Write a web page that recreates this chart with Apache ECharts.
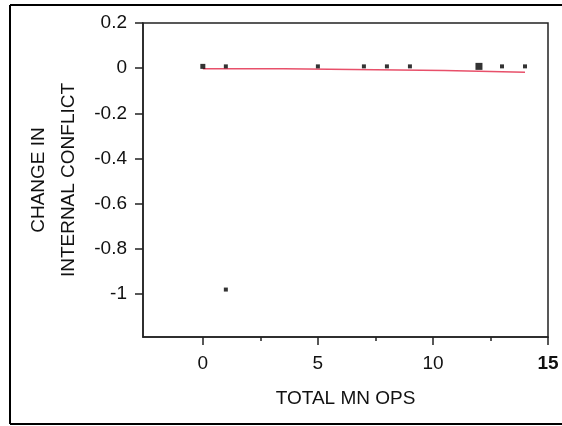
<!DOCTYPE html>
<html>
<head>
<meta charset="utf-8">
<script src="https://cdn.jsdelivr.net/npm/echarts@6/dist/echarts.min.js"></script>
<style>
html,body{margin:0;padding:0;background:#fff;}
#chart{width:562px;height:426px;}
</style>
</head>
<body>
<div id="chart"></div>
<script>
// Data
const pointX = [0, 1, 5, 7, 8, 9, 12, 13, 14, 1];
const pointY = [0.008, 0.008, 0.008, 0.008, 0.008, 0.008, 0.008, 0.008, 0.008, -0.98];
const pointCount = [2, 1, 1, 1, 1, 1, 4, 1, 1, 1];
const fitX = [0, 3.5, 3.5, 10.5, 10.5, 14];
const fitY = [-0.003, -0.003, -0.01, -0.01, -0.018, -0.018];
const xMajorTicks = [0, 5, 10, 15];
const xMinorTicks = [2.5, 7.5, 12.5];
const yTicks = [0.2, 0, -0.2, -0.4, -0.6, -0.8, -1];
const xTitle = 'TOTAL MN OPS';
const yTitle = 'CHANGE IN\nINTERNAL CONFLICT';

const chart = echarts.init(document.getElementById('chart'));
const font = 'Liberation Sans, Arial, sans-serif';
const axisColor = '#222';
const fs = 19;

const scatterData = pointX.map((x, i) => [x, pointY[i], pointCount[i]]);
const fitData = fitX.map((x, i) => [x, fitY[i]]);

chart.setOption({
  animation: false,
  backgroundColor: '#fff',
  grid: {
    left: 143, right: 14, top: 23, bottom: 89,
    show: true, borderColor: axisColor, borderWidth: 1.5, backgroundColor: 'transparent'
  },
  xAxis: [{
    type: 'value', min: -2.6, max: 15,
    name: xTitle, nameLocation: 'middle', nameGap: 52,
    nameTextStyle: { fontFamily: font, fontSize: fs, color: '#111' },
    axisLine: { show: true, onZero: false, lineStyle: { color: axisColor, width: 1.5 } },
    axisTick: { show: true, customValues: xMajorTicks, length: 8, lineStyle: { color: axisColor, width: 1.5 } },
    axisLabel: {
      customValues: xMajorTicks, margin: 17, fontFamily: font, fontSize: fs, color: '#111',
      formatter: v => v === 15 ? '{b|15}' : String(v),
      rich: { b: { fontWeight: 'bold', fontFamily: font, fontSize: fs, color: '#111' } }
    },
    splitLine: { show: false }
  }, {
    type: 'value', min: -2.6, max: 15, position: 'bottom',
    axisLine: { show: false, onZero: false },
    axisTick: { show: true, customValues: xMinorTicks, length: 4, lineStyle: { color: axisColor, width: 1.5 } },
    axisLabel: { show: false },
    splitLine: { show: false }
  }],
  yAxis: {
    type: 'value', min: -1.19, max: 0.2,
    name: yTitle, nameLocation: 'middle', nameGap: 58, nameRotate: 90,
    nameTextStyle: { fontFamily: font, fontSize: fs, color: '#111', lineHeight: 30, align: 'center' },
    axisLine: { show: true, onZero: false, lineStyle: { color: axisColor, width: 1.5 } },
    axisTick: { show: true, customValues: yTicks, length: 8, lineStyle: { color: axisColor, width: 1.5 } },
    axisLabel: { customValues: yTicks, margin: 16, fontFamily: font, fontSize: fs, color: '#111' },
    splitLine: { show: false }
  },
  graphic: [
    { type: 'line', shape: { x1: 10, y1: 5, x2: 562, y2: 5 }, style: { stroke: '#000', lineWidth: 2 } },
    { type: 'line', shape: { x1: 10, y1: 5, x2: 10, y2: 424 }, style: { stroke: '#000', lineWidth: 2 } },
    { type: 'line', shape: { x1: 10, y1: 424, x2: 562, y2: 424 }, style: { stroke: '#000', lineWidth: 2 } }
  ],
  series: [{
    type: 'line', data: fitData, xAxisIndex: 0,
    symbol: 'none', lineStyle: { color: '#e8506a', width: 1.5 }, z: 2
  }, {
    type: 'scatter', data: scatterData, xAxisIndex: 0,
    symbol: 'rect',
    symbolSize: d => d[2] >= 4 ? 7 : (d[2] >= 2 ? 5 : 4),
    itemStyle: { color: '#000' }, z: 3
  }]
});
</script>
</body>
</html>
